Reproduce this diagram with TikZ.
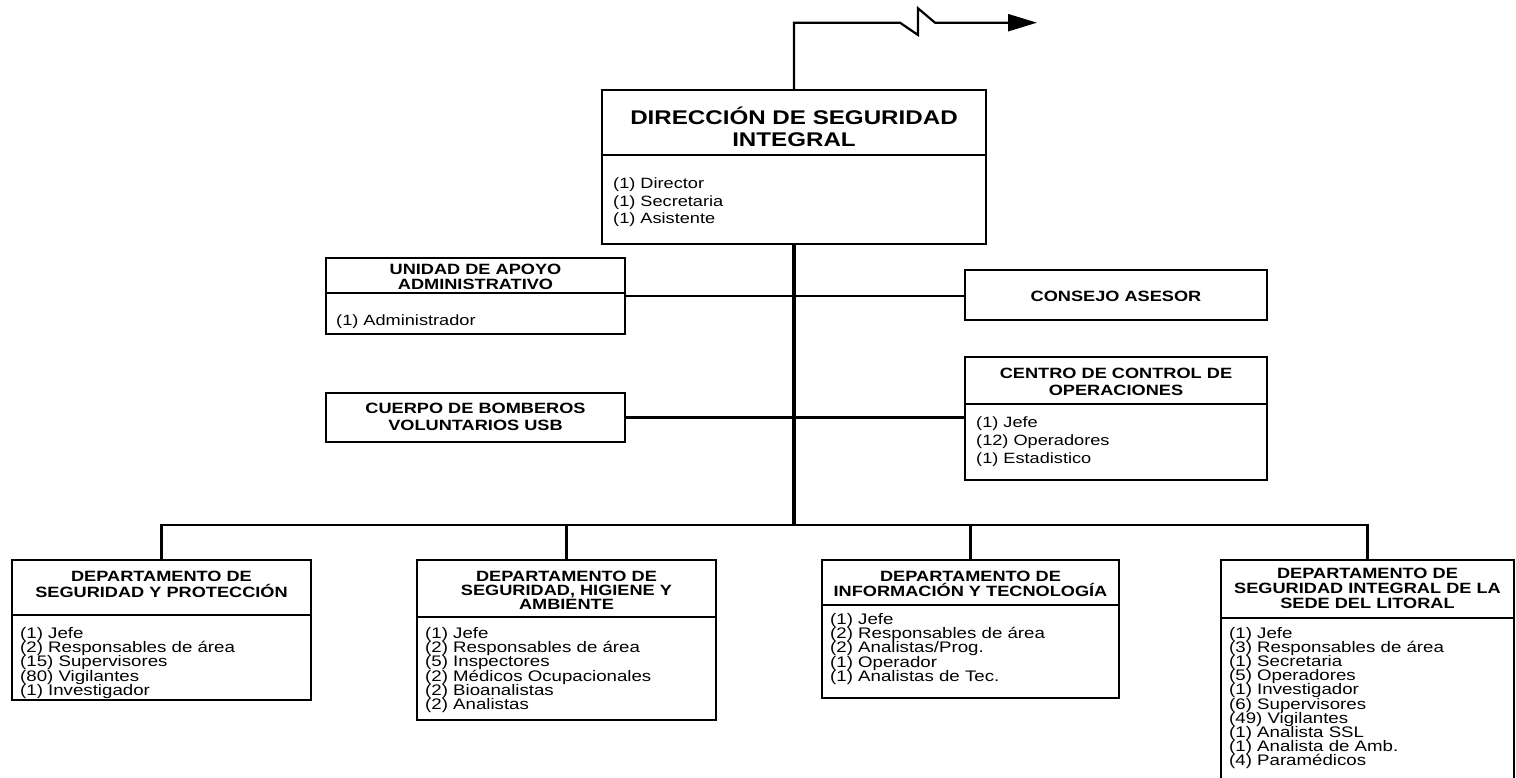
\documentclass[tikz,border=0pt]{standalone}
\usepackage{fontspec}
\newfontfamily\wf{Liberation Sans}[FakeStretch=1.22]
\usetikzlibrary{arrows.meta}
\newcommand\tightls{\lineskiplimit=-20pt\relax\lineskip=0pt\relax}
\begin{document}
\begin{tikzpicture}[x=1pt,y=-1pt,
  box/.style={draw, line width=2.4pt, inner sep=0pt},
  ttl/.style={font=\wf\bfseries\fontsize{14.9}{15.5}\selectfont\tightls, align=center, inner sep=0pt},
  bod/.style={font=\wf\fontsize{14.9}{17.5}\selectfont\tightls, align=left, anchor=west, inner sep=0pt},
  sbod/.style={bod, font=\wf\fontsize{15.3}{14.2}\selectfont\tightls},
  link/.style={line width=2.2pt},
  spine/.style={line width=3.2pt},
  sep/.style={line width=1.8pt}]
\useasboundingbox (0,0) rectangle (1516,778);
\clip (0,0) rectangle (1516,778);
% boxes
\node[box, minimum width=384pt, minimum height=154pt] (dir) at (794,167) {};
\node[box, minimum width=299pt, minimum height=76pt] (una) at (475.5,296) {};
\node[box, minimum width=302pt, minimum height=50pt] (con) at (1116,295) {};
\node[box, minimum width=302pt, minimum height=123pt] (cco) at (1116,418.5) {};
\node[box, minimum width=299pt, minimum height=49pt] (cbv) at (475.5,417.5) {};
\node[box, minimum width=299pt, minimum height=140pt] (dsp) at (161.5,630) {};
\node[box, minimum width=299pt, minimum height=160pt] (dsh) at (566.5,640) {};
\node[box, minimum width=297pt, minimum height=138pt] (dit) at (970.5,629) {};
\node[box, minimum width=293pt, minimum height=240pt] (dsl) at (1367.5,680) {};
% dividers
\draw[sep] (dir.west |- 0,155) -- (dir.east |- 0,155);
\draw[sep] (una.west |- 0,293) -- (una.east |- 0,293);
\draw[sep] (cco.west |- 0,404) -- (cco.east |- 0,404);
\draw[sep] (dsp.west |- 0,615) -- (dsp.east |- 0,615);
\draw[sep] (dsh.west |- 0,617) -- (dsh.east |- 0,617);
\draw[sep] (dit.west |- 0,605) -- (dit.east |- 0,605);
\draw[sep] (dsl.west |- 0,618) -- (dsl.east |- 0,618);
% connectors
\coordinate (bus) at (794,525);
\draw[spine] (dir.south) -- (bus);
\draw[link] (dsp.north) -- (dsp.north |- bus) -- (dsl.north |- bus) -- (dsl.north);
\draw[link] (dsh.north) -- (dsh.north |- bus);
\draw[link] (dit.north) -- (dit.north |- bus);
\draw[link] (una.east) -- (con.west |- una.east);
\draw[link] (cbv.east) -- (cco.west |- cbv.east);
\coordinate (z1) at (900,22.7);
\coordinate (z2) at (918,35);
\coordinate (z3) at (918,8.3);
\coordinate (z4) at (935,22.7);
\coordinate (tip) at (1037,22.7);
\draw[link, -{Triangle[length=29pt,width=17pt]}] (dir.north) |- (z1) -- (z2) -- (z3) -- (z4) -- (tip);
% texts
\node[ttl, font=\wf\bfseries\fontsize{19.8}{22}\selectfont\tightls] (dirT) at (794,126.5) {DIRECCIÓN DE SEGURIDAD\\INTEGRAL};
\node[bod] (dirB) at (613,202.5) {(1) Director\\(1) Secretaria\\(1) Asistente};
\node[ttl] (unaT) at (475.5,277) {UNIDAD DE APOYO\\ADMINISTRATIVO};
\node[bod] (unaB) at (336,322) {(1) Administrador};
\node[ttl] (conT) at (1116,296) {CONSEJO ASESOR};
\node[ttl, font=\wf\bfseries\fontsize{14.9}{17}\selectfont\tightls] (ccoT) at (1116,382) {CENTRO DE CONTROL DE\\OPERACIONES};
\node[bod, font=\wf\fontsize{14.9}{18}\selectfont\tightls] (ccoB) at (976,442) {(1) Jefe\\(12) Operadores\\(1) Estadistico};
\node[ttl, font=\wf\bfseries\fontsize{14.9}{17}\selectfont\tightls] (cbvT) at (475.5,417) {CUERPO DE BOMBEROS\\VOLUNTARIOS USB};
\node[ttl] (dspT) at (161.5,584.5) {DEPARTAMENTO DE\\SEGURIDAD Y PROTECCIÓN};
\node[sbod] (dspB) at (20,663) {(1) Jefe\\(2) Responsables de área\\(15) Supervisores\\(80) Vigilantes\\(1) Investigador};
\node[ttl, font=\wf\bfseries\fontsize{14.9}{14.2}\selectfont\tightls] (dshT) at (566.5,590) {DEPARTAMENTO DE\\SEGURIDAD, HIGIENE Y\\AMBIENTE};
\node[sbod] (dshB) at (425,670) {(1) Jefe\\(2) Responsables de área\\(5) Inspectores\\(2) Médicos Ocupacionales\\(2) Bioanalistas\\(2) Analistas};
\node[ttl] (ditT) at (970.5,584) {DEPARTAMENTO DE\\INFORMACIÓN Y TECNOLOGÍA};
\node[sbod] (ditB) at (830,649) {(1) Jefe\\(2) Responsables de área\\(2) Analistas/Prog.\\(1) Operador\\(1) Analistas de Tec.};
\node[ttl, font=\wf\bfseries\fontsize{14.9}{15}\selectfont\tightls] (dslT) at (1367.5,588) {DEPARTAMENTO DE\\SEGURIDAD INTEGRAL DE LA\\SEDE DEL LITORAL};
\node[sbod] (dslB) at (1229,698) {(1) Jefe\\(3) Responsables de área\\(1) Secretaria\\(5) Operadores\\(1) Investigador\\(6) Supervisores\\(49) Vigilantes\\(1) Analista SSL\\(1) Analista de Amb.\\(4) Paramédicos};
\end{tikzpicture}
\end{document}
